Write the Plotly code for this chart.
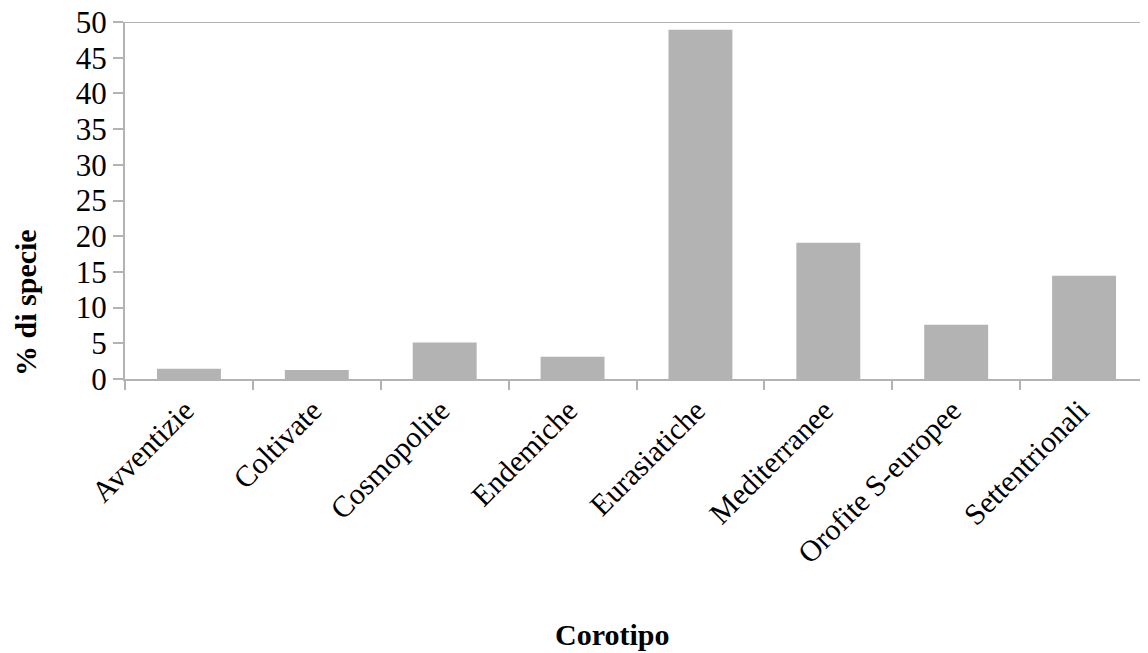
import plotly.graph_objects as go

categories = ["Avventizie", "Coltivate", "Cosmopolite", "Endemiche",
              "Eurasiatiche", "Mediterranee", "Orofite S-europee", "Settentrionali"]
values = [1.45, 1.25, 5.1, 3.1, 48.9, 19.1, 7.6, 14.45]
y_ticks = [0, 5, 10, 15, 20, 25, 30, 35, 40, 45, 50]

GRAY = "#b3b3b3"
FONT = "Liberation Serif"

fig = go.Figure(go.Bar(x=categories, y=values, marker=dict(color=GRAY, line=dict(width=0))))

# page geometry (browser body has an 8px margin)
OFF = 8
PL, PT, PB, PR = 125, 22, 379, 1148   # plot area in page pixels
W, H = 1148 - OFF, 653 - OFF
L, T = PL - OFF, PT - OFF
pw, ph = PR - PL, PB - PT
R = W - L - pw
B = H - T - ph

fig.update_layout(
    width=W, height=H,
    margin=dict(l=L, r=R, t=T, b=B, pad=0, autoexpand=False),
    paper_bgcolor="white", plot_bgcolor="white",
    bargap=0.5,
    showlegend=False,
    font=dict(family=FONT, color="black", size=30),
    xaxis=dict(
        type="category", showline=True, linecolor=GRAY, linewidth=2,
        ticks="outside", tickson="boundaries", ticklen=9, tickcolor=GRAY, tickwidth=2,
        tickangle=-45, tickfont=dict(family=FONT, size=30, color="black"),
        ticklabelshift=-4, ticklabeloverflow="allow", automargin=False,
        showgrid=False, zeroline=False,
    ),
    yaxis=dict(
        range=[0, 50], tickvals=y_ticks, showline=True, linecolor=GRAY, linewidth=2,
        ticks="outside", ticklen=10, tickcolor=GRAY, tickwidth=2,
        tickfont=dict(family=FONT, size=31, color="black"),
        ticklabeloverflow="allow", automargin=False,
        showgrid=False, zeroline=False,
    ),
    shapes=[dict(type="line", xref="paper", yref="y", x0=0, x1=1, y0=50, y1=50,
                 line=dict(color=GRAY, width=2))],
    annotations=[
        dict(text="<b>% di specie</b>", textangle=-90, showarrow=False,
             xref="paper", yref="paper",
             x=(25 - PL) / pw, y=(PB - 303) / ph, xanchor="center", yanchor="middle",
             font=dict(family=FONT, size=30, color="black")),
        dict(text="<b>Corotipo</b>", showarrow=False,
             xref="paper", yref="paper",
             x=(612 - PL) / pw, y=(PB - 634) / ph, xanchor="center", yanchor="middle",
             font=dict(family=FONT, size=30, color="black")),
    ],
)

fig.write_html("out.html")
